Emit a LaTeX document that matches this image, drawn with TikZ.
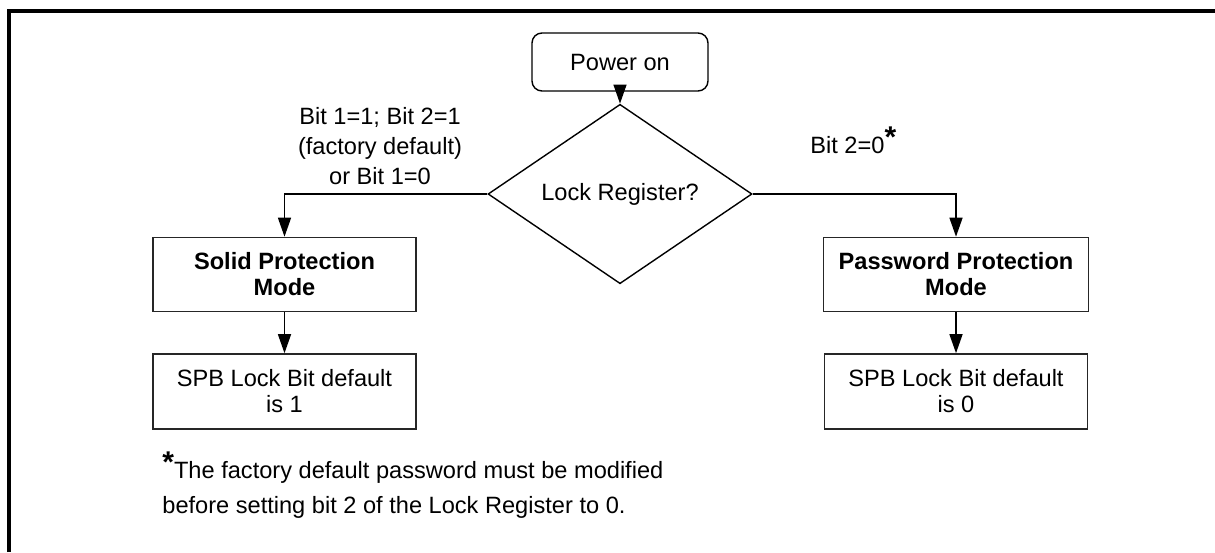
\documentclass[tikz,border=0pt]{standalone}
\usepackage{fontspec}
\setmainfont{Liberation Sans}
\usetikzlibrary{shapes.geometric,arrows.meta}
\begin{document}
\begin{tikzpicture}[x=0.5pt,y=-0.5pt,
  txt/.style={font=\fontsize{11.8}{13}\selectfont},
  box/.style={txt, draw=black!85, line width=0.8pt, rectangle, minimum width=131.5pt, minimum height=37pt, align=center, inner sep=0pt},
  startbox/.style={txt, draw=black, line width=0.7pt, rectangle, rounded corners=5pt, minimum width=88pt, minimum height=29pt, inner sep=0pt},
  decision/.style={txt, draw=black, line width=0.7pt, diamond, minimum width=132pt, minimum height=58pt, inner sep=0pt},
  flow/.style={line width=0.7pt, -{Triangle[length=9.5pt,width=6.5pt]}},
  cond/.style={font=\fontsize{11.8}{15}\selectfont, align=center, inner sep=0pt},
  note/.style={font=\fontsize{11.8}{13}\selectfont, anchor=base west, inner sep=0pt}
]
\useasboundingbox (0,0) rectangle (1215,552);
% open frame
\draw[line width=2pt] (9,552) -- (9,11) -- (1215,11);

\node[startbox] (power) at (620,62) {Power on};
\node[decision] (lock) at (620,194) {Lock Register?};
\node[box, font=\fontsize{11.8}{13}\selectfont\bfseries] (solid) at (284.5,274.5) {Solid Protection\\Mode};
\node[box, minimum height=37.5pt] (spbone) at (284.5,391.5) {SPB Lock Bit default\\is 1};
\node[box, minimum width=132.5pt, font=\fontsize{11.8}{13}\selectfont\bfseries] (pwd) at (956,274.5) {Password Protection\\Mode};
\node[box, minimum height=37.5pt] (spbzero) at (956,391.5) {SPB Lock Bit default\\is 0};

\node[cond] (condleft) at (380,146) {Bit 1=1; Bit 2=1\\(factory default)\\or Bit 1=0};
\node[txt, anchor=base west, inner sep=0pt] (condright) at (810,153) {Bit 2=0\raisebox{3pt}{\fontsize{15}{15}\selectfont\bfseries *}};

\draw[flow] (power) -- (lock);
\draw[flow] (lock.west) -| (solid.north);
\draw[flow] (lock.east) -| (pwd.north);
\draw[flow] (solid) -- (spbone);
\draw[flow] (pwd) -- (spbzero);

\node[note] (noteone) at (162,478) {\raisebox{3pt}{\fontsize{15}{15}\selectfont\bfseries *}The factory default password must be modified};
\node[note] (notetwo) at (162,513) {before setting bit 2 of the Lock Register to 0.};
\end{tikzpicture}
\end{document}
